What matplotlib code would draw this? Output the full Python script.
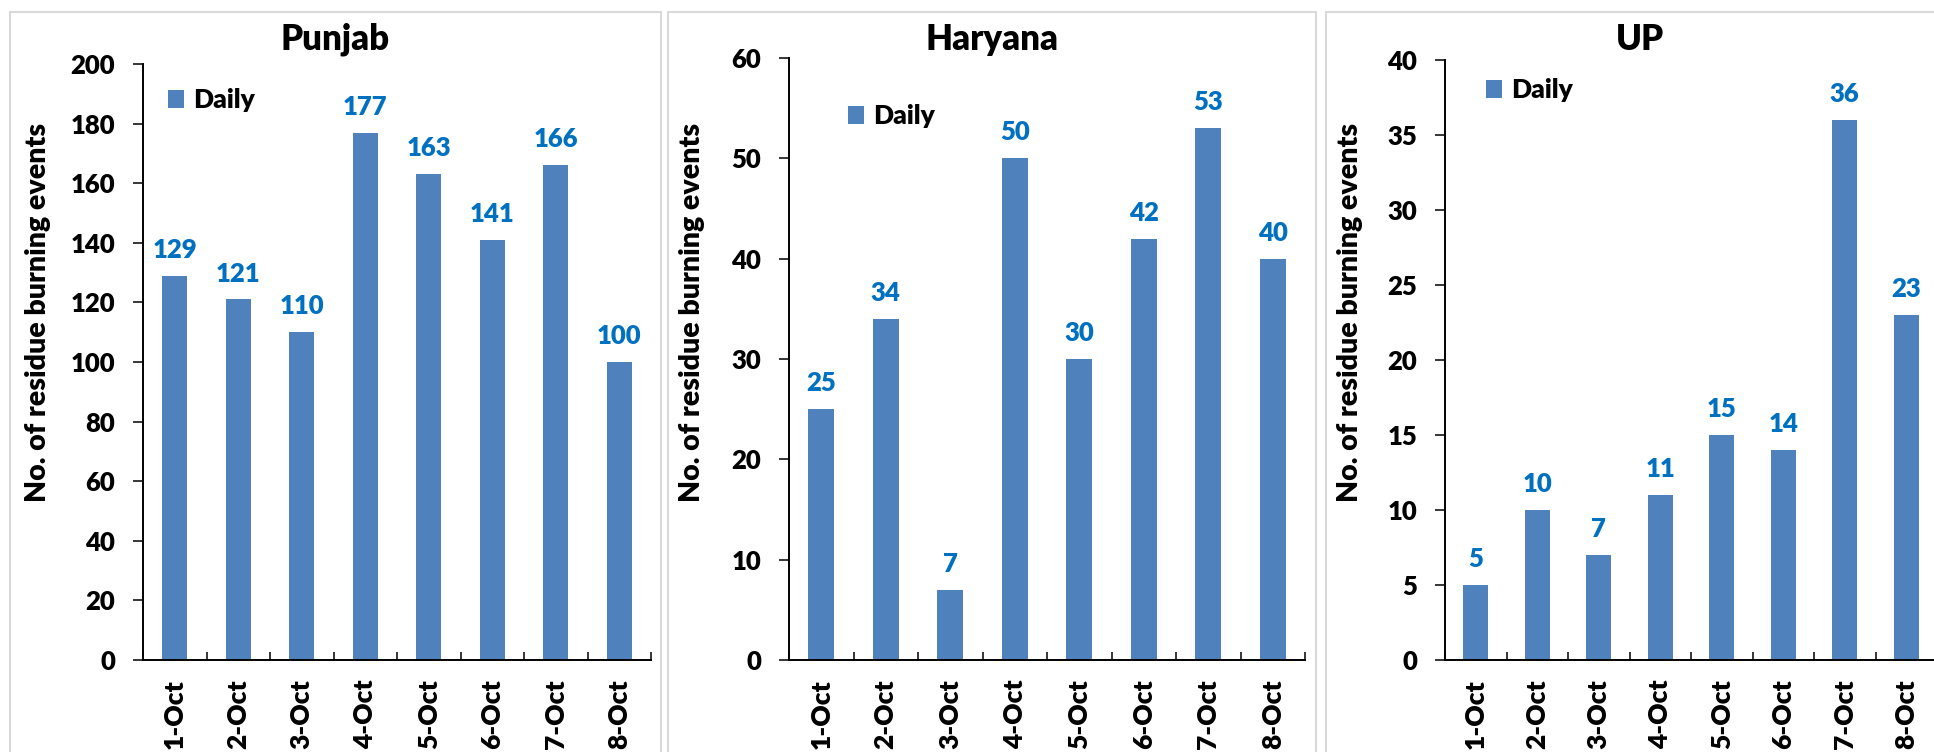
import numpy as np
import matplotlib
matplotlib.use('Agg')
import matplotlib.pyplot as plt
from matplotlib.patches import Rectangle

# data
dates = ['1-Oct', '2-Oct', '3-Oct', '4-Oct', '5-Oct', '6-Oct', '7-Oct', '8-Oct']
punjab = [129, 121, 110, 177, 163, 141, 166, 100]
haryana = [25, 34, 7, 50, 30, 42, 53, 40]
up = [5, 10, 7, 11, 15, 14, 36, 23]
states = ['Punjab', 'Haryana', 'UP']
y_max = [200, 60, 40]
y_step = [20, 10, 5]

plt.rcParams['font.family'] = ['Lato', 'DejaVu Sans']
plt.rcParams['font.weight'] = 'heavy'

W, H = 1934, 752
fig = plt.figure(figsize=(W / 100, H / 100), dpi=100)


def fx(px):
    return px / W


def fy(py):
    return 1 - py / H


# layout in pixels (left, right) / (left, right, top, bottom)
panels = [(10, 661), (668, 1316), (1326, 1978)]
axes_box = [(143, 651, 64, 660), (789, 1305, 58, 660), (1445, 1937, 60, 660)]
title_x = [335, 992, 1640]
ylabel_x = [38, 692, 1350]
legend_pos = [(168, 100), (848, 116), (1486, 90)]

bar_color = '#4F81BD'
label_color = '#0070C0'
wt = 'heavy'

# panel frames
for p0, p1 in panels:
    fig.add_artist(Rectangle((fx(p0), fy(800)), (p1 - p0) / W, (800 - 12) / H,
                             transform=fig.transFigure, fill=False,
                             ec='#D9D9D9', lw=1.5))

for i, vals in enumerate([punjab, haryana, up]):
    l, r, t, b = axes_box[i]
    ax = fig.add_axes([fx(l), fy(b), (r - l) / W, (b - t) / H])
    x = np.arange(len(dates))
    bars = ax.bar(x, vals, width=0.4, color=bar_color, label='Daily')
    ax.bar_label(bars, padding=10, color=label_color, fontsize=18.5, fontweight=wt)

    ax.set_xlim(-0.5, len(dates) - 0.5)
    ax.set_ylim(0, y_max[i])
    ax.set_yticks(np.arange(0, y_max[i] + 1, y_step[i]))
    ax.set_xticks(x)
    ax.set_xticklabels(dates, rotation=90, fontweight=wt)
    ax.set_xticks(np.arange(-0.5, len(dates)), minor=True)
    ax.tick_params(axis='x', which='major', length=0, pad=14, labelsize=19)
    ax.tick_params(axis='x', which='minor', direction='in', length=6, width=1.1)
    ax.tick_params(axis='y', direction='out', length=7, width=1.1, pad=13, labelsize=18.5)
    for lab in ax.get_yticklabels():
        lab.set_fontweight(wt)
    for s in ['top', 'right']:
        ax.spines[s].set_visible(False)
    for s in ['left', 'bottom']:
        ax.spines[s].set_linewidth(1.4)

    lx, ly = legend_pos[i]
    ax.legend(loc='center left', bbox_to_anchor=(fx(lx), fy(ly)),
              bbox_transform=fig.transFigure, frameon=False,
              prop={'size': 19, 'weight': wt},
              handlelength=0.62, handleheight=0.7, handletextpad=0.35,
              borderpad=0, borderaxespad=0)

    fig.text(fx(title_x[i]), fy(50), states[i], ha='center', va='baseline',
             fontsize=25, fontweight=wt)
    fig.text(fx(ylabel_x[i]), fy(312), 'No. of residue burning events',
             rotation=90, ha='center', va='center', fontsize=20.5, fontweight=wt)

fig.savefig('out.png', dpi=100)
